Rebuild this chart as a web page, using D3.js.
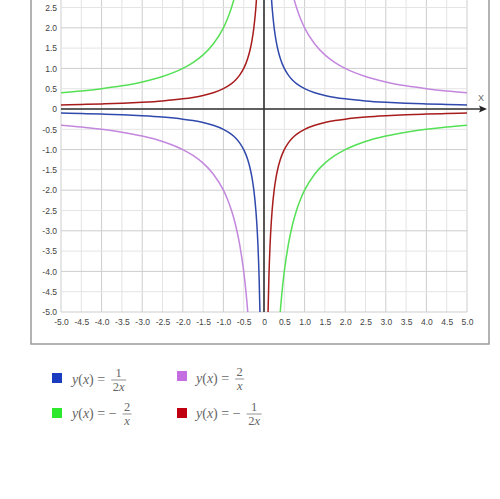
<!DOCTYPE html>
<html><head><meta charset="utf-8">
<script src="https://cdn.jsdelivr.net/npm/d3@7/dist/d3.min.js"></script>
<style>
html,body{margin:0;padding:0;background:#fff;}
svg{display:block;}
</style></head>
<body>
<svg id="chart" width="500" height="499"></svg>
<script>
// ---- data ----
const xTicks = [-5,-4.5,-4,-3.5,-3,-2.5,-2,-1.5,-1,-0.5,0,0.5,1,1.5,2,2.5,3,3.5,4,4.5,5];
const yTicks = [-5,-4.5,-4,-3.5,-3,-2.5,-2,-1.5,-1,-0.5,0,0.5,1,1.5,2,2.5,3,3.5,4,4.5,5];
const yTickLabels = [-5,-4.5,-4,-3.5,-3,-2.5,-2,-1.5,-1,-0.5,0,0.5,1,1.5,2,2.5];
const xsNeg = [-5,-4.5,-4,-3.5,-3,-2.5,-2,-1.75,-1.5,-1.25,-1,-0.9,-0.8,-0.7,-0.6,-0.5,-0.45,-0.4,-0.35,-0.3,-0.25,-0.2,-0.18,-0.15,-0.12,-0.1,-0.08];
const xsPos = [0.08,0.1,0.12,0.15,0.18,0.2,0.25,0.3,0.35,0.4,0.45,0.5,0.6,0.7,0.8,0.9,1,1.25,1.5,1.75,2,2.5,3,3.5,4,4.5,5];
// y(x) = 1/(2x)
const blueNeg = [-0.1,-0.111,-0.125,-0.143,-0.167,-0.2,-0.25,-0.286,-0.333,-0.4,-0.5,-0.556,-0.625,-0.714,-0.833,-1,-1.111,-1.25,-1.429,-1.667,-2,-2.5,-2.778,-3.333,-4.167,-5,-6.25];
const bluePos = [6.25,5,4.167,3.333,2.778,2.5,2,1.667,1.429,1.25,1.111,1,0.833,0.714,0.625,0.556,0.5,0.4,0.333,0.286,0.25,0.2,0.167,0.143,0.125,0.111,0.1];
// y(x) = 2/x
const purpleNeg = [-0.4,-0.444,-0.5,-0.571,-0.667,-0.8,-1,-1.143,-1.333,-1.6,-2,-2.222,-2.5,-2.857,-3.333,-4,-4.444,-5,-5.714,-6.667,-8,-10,-11.111,-13.333,-16.667,-20,-25];
const purplePos = [25,20,16.667,13.333,11.111,10,8,6.667,5.714,5,4.444,4,3.333,2.857,2.5,2.222,2,1.6,1.333,1.143,1,0.8,0.667,0.571,0.5,0.444,0.4];
// y(x) = -2/x
const greenNeg = [0.4,0.444,0.5,0.571,0.667,0.8,1,1.143,1.333,1.6,2,2.222,2.5,2.857,3.333,4,4.444,5,5.714,6.667,8,10,11.111,13.333,16.667,20,25];
const greenPos = [-25,-20,-16.667,-13.333,-11.111,-10,-8,-6.667,-5.714,-5,-4.444,-4,-3.333,-2.857,-2.5,-2.222,-2,-1.6,-1.333,-1.143,-1,-0.8,-0.667,-0.571,-0.5,-0.444,-0.4];
// y(x) = -1/(2x)
const redNeg = [0.1,0.111,0.125,0.143,0.167,0.2,0.25,0.286,0.333,0.4,0.5,0.556,0.625,0.714,0.833,1,1.111,1.25,1.429,1.667,2,2.5,2.778,3.333,4.167,5,6.25];
const redPos = [-6.25,-5,-4.167,-3.333,-2.778,-2.5,-2,-1.667,-1.429,-1.25,-1.111,-1,-0.833,-0.714,-0.625,-0.556,-0.5,-0.4,-0.333,-0.286,-0.25,-0.2,-0.167,-0.143,-0.125,-0.111,-0.1];

const seriesNames = ["blue","purple","green","red"];
const seriesColors = {blue:"#3049ad", purple:"#c387de", green:"#55e055", red:"#a81c1c"};
const legendColors = {blue:"#1c3cc0", purple:"#c46ee2", green:"#2ee82e", red:"#c00010"};

// ---- chart ----
const svg = d3.select("#chart");
const x = d3.scaleLinear().domain([-5,5]).range([61,467]);
const y = d3.scaleLinear().domain([-5,5]).range([312,-94]);

// frame
svg.append("rect").attr("x",31).attr("y",-20).attr("width",458).attr("height",364)
  .attr("fill","none").attr("stroke","#9a9a9a").attr("stroke-width",1.5);

// grid
const grid = svg.append("g");
grid.selectAll("line.v").data(xTicks).join("line")
  .attr("x1",d=>x(d)).attr("x2",d=>x(d)).attr("y1",y(5)).attr("y2",y(-5))
  .attr("stroke",d=>Number.isInteger(d)?"#cdcdcd":"#e4e4e4").attr("stroke-width",1);
grid.selectAll("line.h").data(yTicks).join("line")
  .attr("y1",d=>y(d)).attr("y2",d=>y(d)).attr("x1",x(-5)).attr("x2",x(5))
  .attr("stroke",d=>Number.isInteger(d)?"#cdcdcd":"#e4e4e4").attr("stroke-width",1);

// tick labels via axes
const fmt = d => d===0 ? "0" : d.toFixed(1);
const ya = svg.append("g").attr("transform",`translate(${x(-5)},0)`)
  .call(d3.axisLeft(y).tickValues(yTickLabels).tickFormat(fmt).tickSize(0).tickPadding(4));
const xa = svg.append("g").attr("transform",`translate(0,${y(-5)})`)
  .call(d3.axisBottom(x).tickValues(xTicks).tickFormat(fmt).tickSize(0).tickPadding(7));
[ya,xa].forEach(a=>{
  a.select(".domain").remove();
  a.selectAll("text").attr("fill","#444").style("font-family","'Liberation Sans', Arial, sans-serif").style("font-size","8.5px");
});

// axes lines
svg.append("line").attr("x1",x(-5)).attr("x2",482).attr("y1",y(0)).attr("y2",y(0))
  .attr("stroke","#333").attr("stroke-width",1.6);
svg.append("path").attr("d",`M487,${y(0)} L479,${y(0)-3.5} L480.5,${y(0)} L479,${y(0)+3.5} Z`).attr("fill","#222");
svg.append("line").attr("x1",x(0)).attr("x2",x(0)).attr("y1",y(-5)).attr("y2",y(5)-6)
  .attr("stroke","#333").attr("stroke-width",1.6);
svg.append("text").attr("x",481).attr("y",101).attr("text-anchor","middle")
  .attr("fill","#666").style("font-family","'Liberation Sans', Arial, sans-serif").style("font-size","9px").text("X");

// curves
svg.append("clipPath").attr("id","plotclip").append("rect")
  .attr("x",x(-5)).attr("y",y(5)).attr("width",x(5)-x(-5)).attr("height",y(-5)-y(5));
const line = d3.line().x(d=>x(d[0])).y(d=>y(d[1])).curve(d3.curveMonotoneX);
const seriesData = {
  blue:[blueNeg,bluePos], purple:[purpleNeg,purplePos], green:[greenNeg,greenPos], red:[redNeg,redPos]
};
const curves = svg.append("g").attr("clip-path","url(#plotclip)");
seriesNames.forEach(name=>{
  const [neg,pos] = seriesData[name];
  [d3.zip(xsNeg,neg), d3.zip(xsPos,pos)].forEach(pts=>{
    curves.append("path").attr("d",line(pts)).attr("fill","none")
      .attr("stroke",seriesColors[name]).attr("stroke-width",1.5);
  });
});

// legend
const legendItems = [
  {name:"blue", sx:52, sy:373, tx:72, base:384, minus:false, num:"1", den:"2x"},
  {name:"purple", sx:177, sy:371, tx:196, base:383, minus:false, num:"2", den:"x"},
  {name:"green", sx:52, sy:408, tx:72, base:418, minus:true, num:"2", den:"x"},
  {name:"red", sx:177, sy:408, tx:196, base:418, minus:true, num:"1", den:"2x"}
];
const serif = "'Liberation Serif','DejaVu Serif',serif";
const lg = svg.append("g");
legendItems.forEach(it=>{
  lg.append("rect").attr("x",it.sx).attr("y",it.sy).attr("width",10).attr("height",10).attr("fill",legendColors[it.name]);
  const t = lg.append("text").attr("x",it.tx).attr("y",it.base).attr("fill","#666")
    .style("font-family",serif).style("font-size","14px");
  t.append("tspan").style("font-style","italic").text("y");
  t.append("tspan").text("(");
  t.append("tspan").style("font-style","italic").text("x");
  t.append("tspan").text(") = " + (it.minus ? "\u2212" : ""));
  const w = t.node().getComputedTextLength();
  const fx = it.tx + w + 6;
  const fw = it.den.length>1 ? 15 : 9;
  const cx = fx + fw/2;
  const barY = it.base - 4;
  lg.append("line").attr("x1",fx).attr("x2",fx+fw).attr("y1",barY).attr("y2",barY).attr("stroke","#777").attr("stroke-width",0.8);
  lg.append("text").attr("x",cx).attr("y",barY-3).attr("text-anchor","middle").attr("fill","#666")
    .style("font-family",serif).style("font-size","12.5px").text(it.num);
  const dt = lg.append("text").attr("x",cx).attr("y",barY+10.5).attr("text-anchor","middle").attr("fill","#666")
    .style("font-family",serif).style("font-size","12.5px");
  if (it.den.length>1) { dt.append("tspan").text("2"); }
  dt.append("tspan").style("font-style","italic").text("x");
});
</script>
</body></html>
